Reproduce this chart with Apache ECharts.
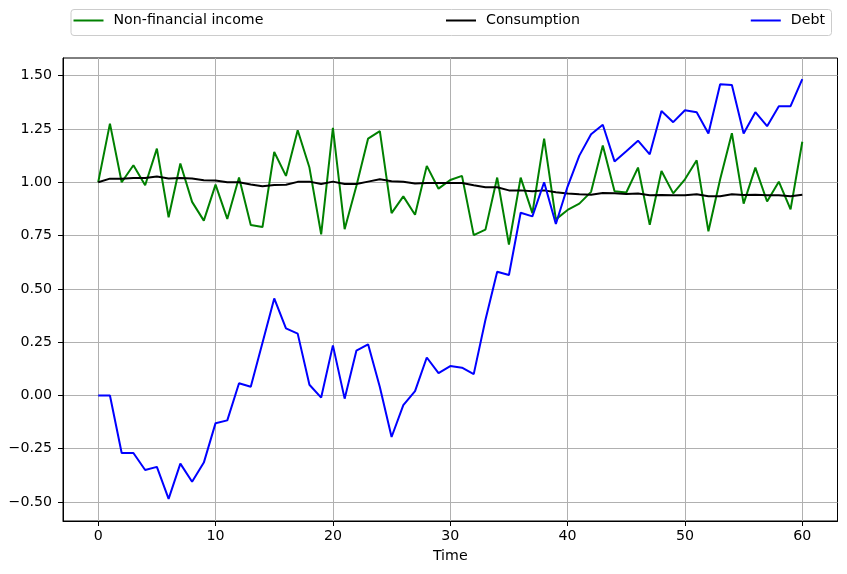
<!DOCTYPE html>
<html>
<head>
<meta charset="utf-8">
<script src="https://cdn.jsdelivr.net/npm/echarts@6/dist/echarts.min.js"></script>
<style>
html,body{margin:0;padding:0;background:#fff;}
#c{width:847px;height:574px;}
</style>
</head>
<body>
<div id="c"></div>
<script>
const times = Array.from({length: 61}, (_, i) => i);
const nonFinancialIncome = [1.00,1.275,1.00,1.08,0.986,1.158,0.836,1.088,0.908,0.82,
  0.989,0.828,1.022,0.80,0.79,1.142,1.03,1.244,1.069,0.756,
  1.255,0.78,0.983,1.205,1.24,0.855,0.934,0.848,1.077,0.97,
  1.011,1.03,0.752,0.778,1.022,0.708,1.022,0.855,1.205,0.826,
  0.87,0.90,0.955,1.173,0.958,0.952,1.069,0.80,1.053,0.948,
  1.014,1.103,0.77,1.014,1.23,0.90,1.069,0.91,1.003,0.873,1.19];
const consumption = [1.00,1.017,1.017,1.02,1.02,1.027,1.018,1.02,1.018,1.009,
  1.008,1.0,1.0,0.99,0.981,0.987,0.988,1.002,1.003,0.992,
  1.003,0.992,0.992,1.003,1.014,1.005,1.002,0.994,0.997,0.997,
  0.997,0.997,0.986,0.977,0.977,0.962,0.962,0.958,0.962,0.953,
  0.947,0.944,0.942,0.95,0.948,0.945,0.947,0.939,0.94,0.939,
  0.939,0.944,0.934,0.934,0.944,0.94,0.942,0.939,0.939,0.934,0.942];
const debt = [0.00,0.00,-0.27,-0.27,-0.35,-0.335,-0.485,-0.32,-0.405,-0.315,
  -0.13,-0.117,0.057,0.041,0.247,0.455,0.315,0.29,0.05,-0.01,
  0.235,-0.015,0.21,0.24,0.04,-0.195,-0.045,0.02,0.178,0.105,
  0.138,0.13,0.10,0.355,0.58,0.565,0.857,0.84,1.00,0.804,
  0.98,1.125,1.225,1.27,1.098,1.146,1.195,1.131,1.334,1.282,
  1.338,1.328,1.229,1.46,1.456,1.229,1.329,1.263,1.357,1.357,1.484];
const xTicks = [0,10,20,30,40,50,60];
const yTicks = [-0.5,-0.25,0,0.25,0.5,0.75,1.0,1.25,1.5];
const seriesNames = ['Non-financial income','Consumption','Debt'];

const FONT = 'DejaVu Sans';
const FS = 14.2;
const pair = arr => arr.map((v, i) => [times[i], v]);
const fmtY = v => (v < 0 ? '\u2212' + Math.abs(v).toFixed(2) : v.toFixed(2));

const chart = echarts.init(document.getElementById('c'), null, {renderer: 'canvas'});
const legendCommon = {
  top: 13.5, padding: 0, icon: 'rect', itemWidth: 30, itemHeight: 2,
  textStyle: {fontFamily: FONT, fontSize: FS, color: '#000', padding: [0,0,0,5]},
  selectedMode: false
};
chart.setOption({
  animation: false,
  backgroundColor: '#fff',
  graphic: [{
    type: 'rect', left: 70.5, top: 9, z: 0,
    shape: {width: 760.5, height: 26, r: 3},
    style: {fill: '#fff', stroke: '#cccccc', lineWidth: 1}
  }],
  legend: [
    Object.assign({}, legendCommon, {left: 73.5, data: [seriesNames[0]]}),
    Object.assign({}, legendCommon, {left: 446, data: [seriesNames[1]]}),
    Object.assign({}, legendCommon, {right: 22, data: [seriesNames[2]]})
  ],
  grid: {left: 63, right: 9.5, top: 58, bottom: 53, show: true, borderColor: '#000', borderWidth: 1, containLabel: false},
  xAxis: {
    type: 'value', min: -3, max: 63,
    name: 'Time', nameLocation: 'middle', nameGap: 28,
    nameTextStyle: {fontFamily: FONT, fontSize: FS, color: '#000'},
    axisLine: {show: true, onZero: false, lineStyle: {color: '#000', width: 1}},
    axisTick: {show: true, length: 5, lineStyle: {color: '#000'}, customValues: xTicks},
    axisLabel: {fontFamily: FONT, fontSize: FS, color: '#000', margin: 8, customValues: xTicks, formatter: v => String(v)},
    splitLine: {show: true, lineStyle: {color: '#b0b0b0', width: 1}}
  },
  yAxis: {
    type: 'value', min: -0.589, max: 1.583,
    axisLine: {show: true, onZero: false, lineStyle: {color: '#000', width: 1}},
    axisTick: {show: true, length: 5, lineStyle: {color: '#000'}, customValues: yTicks},
    axisLabel: {fontFamily: FONT, fontSize: FS, color: '#000', margin: 11, customValues: yTicks, formatter: fmtY},
    splitLine: {show: true, lineStyle: {color: '#b0b0b0', width: 1}}
  },
  series: [
    {name: seriesNames[0], type: 'line', data: pair(nonFinancialIncome), showSymbol: false, symbol: 'none', lineStyle: {color: '#008000', width: 2}, itemStyle: {color: '#008000'}},
    {name: seriesNames[1], type: 'line', data: pair(consumption), showSymbol: false, symbol: 'none', lineStyle: {color: '#000000', width: 2}, itemStyle: {color: '#000000'}},
    {name: seriesNames[2], type: 'line', data: pair(debt), showSymbol: false, symbol: 'none', lineStyle: {color: '#0000ff', width: 2}, itemStyle: {color: '#0000ff'}}
  ]
});
</script>
</body>
</html>
